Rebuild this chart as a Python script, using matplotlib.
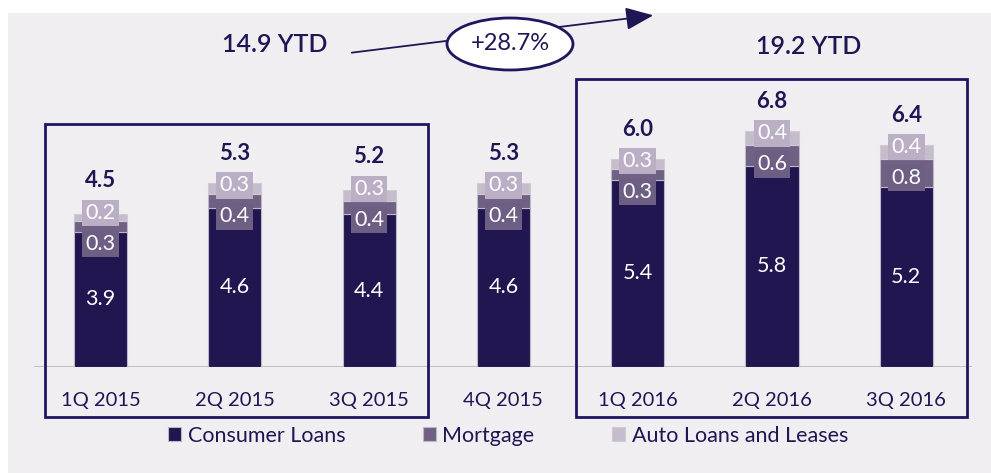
import matplotlib
matplotlib.use("Agg")
import matplotlib.pyplot as plt
from matplotlib.patches import Rectangle, Ellipse
import numpy as np

plt.rcParams['font.family'] = ['Lato', 'DejaVu Sans']

categories = ["1Q 2015", "2Q 2015", "3Q 2015", "4Q 2015", "1Q 2016", "2Q 2016", "3Q 2016"]
consumer = [3.9, 4.6, 4.4, 4.6, 5.4, 5.8, 5.2]
mortgage = [0.3, 0.4, 0.4, 0.4, 0.3, 0.6, 0.8]
auto = [0.2, 0.3, 0.3, 0.3, 0.3, 0.4, 0.4]
totals = [4.5, 5.3, 5.2, 5.3, 6.0, 6.8, 6.4]
series_names = ["Consumer Loans", "Mortgage", "Auto Loans and Leases"]
ytd_left = "14.9 YTD"
ytd_right = "19.2 YTD"
growth = "+28.7%"

W, H = 991, 473
TXT = "#1f1654"
C_CONS = "#21164f"
C_MORT = "#706184"
C_AUTO = "#c5bdcb"
BOX_MORT = "#6d5e83"
BOX_AUTO = "#bbafc5"
BG = "#f0eef1"

fig = plt.figure(figsize=(W / 100, H / 100), dpi=100)
fig.patch.set_facecolor("white")

def fx(x):
    return x / W

def fy(y):
    return 1 - y / H

# gray background panel
fig.patches.append(Rectangle((fx(8), 0), 1 - fx(8), fy(13), transform=fig.transFigure,
                             facecolor=BG, edgecolor="none", zorder=-10))

base_y = 366.7
ppu = 34.6
ax = fig.add_axes([fx(34), fy(base_y), fx(972) - fx(34), (base_y - 13) / H])
ax.set_facecolor("none")
ax.set_xlim(-0.495, 6.489)
ax.set_ylim(0, (base_y - 13) / ppu)
for s in ax.spines.values():
    s.set_visible(False)
ax.axhline(0, color="#c0c0c0", lw=1.5, zorder=1)
ax.set_yticks([])
x = np.arange(len(categories))
ax.set_xticks(x)
ax.set_xticklabels(categories, fontsize=14.5, color=TXT)
ax.tick_params(axis="x", length=0, pad=18)

bw = 0.395
cons_arr = np.array(consumer)
mort_arr = np.array(mortgage)
auto_arr = np.array(auto)
b1 = ax.bar(x, cons_arr, bw, color=C_CONS, edgecolor="#bdb8c8", lw=0.8, zorder=2, label=series_names[0])
b2 = ax.bar(x, mort_arr, bw, bottom=cons_arr, color=C_MORT, edgecolor="#bdb8c8", lw=0.8, zorder=2, label=series_names[1])
b3 = ax.bar(x, auto_arr, bw, bottom=cons_arr + mort_arr, color=C_AUTO, edgecolor="#d0cad6", lw=0.8, zorder=2, label=series_names[2])

for i in range(len(categories)):
    ax.text(x[i], consumer[i] / 2, f"{consumer[i]:.1f}", ha="center", va="center",
            color="white", fontsize=15.5, zorder=5)
    ax.annotate(f"{mortgage[i]:.1f}", (x[i], totals[i]), xytext=(0, -33), textcoords="offset pixels",
                ha="center", va="center", color="white", fontsize=15.5, zorder=5,
                bbox=dict(boxstyle="square,pad=0.15", fc=BOX_MORT, ec="none"))
for i in range(len(categories)):
    ax.annotate(f"{auto[i]:.1f}", (x[i], totals[i]), xytext=(0, -2), textcoords="offset pixels",
                ha="center", va="center", color="white", fontsize=15.5, zorder=6,
                bbox=dict(boxstyle="square,pad=0.15", fc=BOX_AUTO, ec="none"))
    ax.annotate(f"{totals[i]:.1f}", (x[i], totals[i]), xytext=(0, 30), textcoords="offset pixels",
                ha="center", va="center", color=TXT, fontsize=16, fontweight="bold", zorder=6)

# group boxes
def frame(x0, y0, x1, y1):
    fig.patches.append(Rectangle((fx(x0), fy(y1)), fx(x1) - fx(x0), fy(y0) - fy(y1),
                                 transform=fig.transFigure, fill=False, edgecolor="#1f1660",
                                 lw=2, zorder=5))

frame(45, 124, 428, 417)
frame(576, 79, 967, 417)

fig.text(fx(275), fy(45), ytd_left, ha="center", va="center", fontsize=18, fontweight="semibold", color=TXT)
fig.text(fx(809), fy(47), ytd_right, ha="center", va="center", fontsize=18, fontweight="semibold", color=TXT)

# arrow
fig.add_artist(matplotlib.patches.FancyArrowPatch((fx(349), fy(53)), (fx(656), fy(15)),
               transform=fig.transFigure, arrowstyle="-|>,head_length=17,head_width=7",
               mutation_scale=1, color="#1f1654", lw=1.3, zorder=6))
fig.add_artist(Ellipse((fx(510), fy(44)), fx(126), 52 / H, transform=fig.transFigure,
                       facecolor="white", edgecolor="#1f1660", lw=2, zorder=7))
fig.text(fx(510), fy(44), growth, ha="center", va="center", fontsize=17, color=TXT, zorder=8)

leg = fig.legend(handles=[b1, b2, b3], labels=series_names, loc="center", bbox_to_anchor=(fx(508), fy(436)),
                 ncol=3, frameon=False, fontsize=15.5, handlelength=0.62, handleheight=0.62,
                 handletextpad=0.3, columnspacing=3.6, borderaxespad=0)
for t in leg.get_texts():
    t.set_color(TXT)

fig.savefig("out.png", dpi=100, facecolor=fig.get_facecolor())
